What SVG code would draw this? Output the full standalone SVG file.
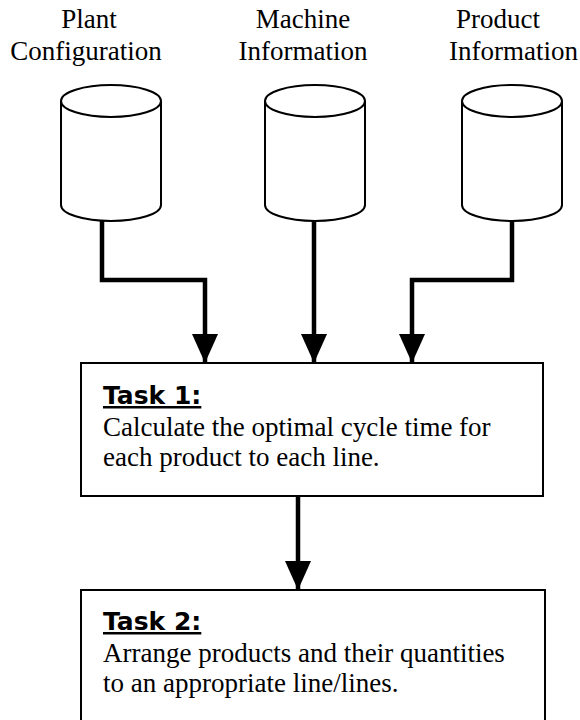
<svg xmlns="http://www.w3.org/2000/svg" width="580" height="720" viewBox="0 0 580 720">
<style>
.lbl{font-family:"Liberation Serif","Times New Roman",serif;font-size:27px;fill:#000;text-anchor:middle}
.lbl-l{font-family:"Liberation Serif","Times New Roman",serif;font-size:27px;fill:#000}
.body{font-family:"Liberation Serif","Times New Roman",serif;font-size:27px;fill:#000}
.head{font-family:"DejaVu Sans","Liberation Sans",sans-serif;font-weight:bold;font-size:25px;fill:#000;text-decoration:underline}
.cyl{fill:#fff;stroke:#000;stroke-width:2}
.box{fill:#fff;stroke:#000;stroke-width:2}
.conn{fill:none;stroke:#000;stroke-width:4.5;stroke-linejoin:miter}
</style>
<defs>
<marker id="ah" viewBox="0 0 29 26" refX="29" refY="13" markerWidth="29" markerHeight="26" markerUnits="userSpaceOnUse" orient="auto">
<path d="M0,0 L29,13 L0,26 Z" fill="#000"/>
</marker>
</defs>
<g id="plant">
<path class="cyl" d="M61,101 L61,205 A50,16 0 0 0 161,205 L161,101"/>
<ellipse class="cyl" cx="111" cy="101" rx="50" ry="16"/>
<text class="lbl" x="89" y="28">Plant</text>
<text class="lbl" x="86" y="60">Configuration</text>
</g>
<g id="machine">
<path class="cyl" d="M265,101 L265,205 A50,16 0 0 0 365,205 L365,101"/>
<ellipse class="cyl" cx="315" cy="101" rx="50" ry="16"/>
<text class="lbl" x="303" y="28">Machine</text>
<text class="lbl" x="303" y="60">Information</text>
</g>
<g id="product">
<path class="cyl" d="M462,101 L462,205 A50,16 0 0 0 562,205 L562,101"/>
<ellipse class="cyl" cx="512" cy="101" rx="50" ry="16"/>
<text class="lbl-l" x="456" y="28">Product</text>
<text class="lbl-l" x="449" y="60">Information</text>
</g>
<g id="connectors">
<path class="conn" d="M102,221 L102,280 L205,280 L205,363" marker-end="url(#ah)"/>
<path class="conn" d="M314,221 L314,363" marker-end="url(#ah)"/>
<path class="conn" d="M512,221 L512,280 L412,280 L412,363" marker-end="url(#ah)"/>
<path class="conn" d="M298,496 L298,590" marker-end="url(#ah)"/>
</g>
<g id="task1">
<rect class="box" x="81" y="363" width="462" height="133"/>
<text class="head" x="103" y="404">Task 1:</text>
<text class="body" x="103" y="436">Calculate the optimal cycle time for</text>
<text class="body" x="103" y="466">each product to each line.</text>
</g>
<g id="task2">
<rect class="box" x="81" y="590" width="464" height="140"/>
<text class="head" x="103" y="630">Task 2:</text>
<text class="body" x="103" y="662">Arrange products and their quantities</text>
<text class="body" x="103" y="692">to an appropriate line/lines.</text>
</g>
</svg>
